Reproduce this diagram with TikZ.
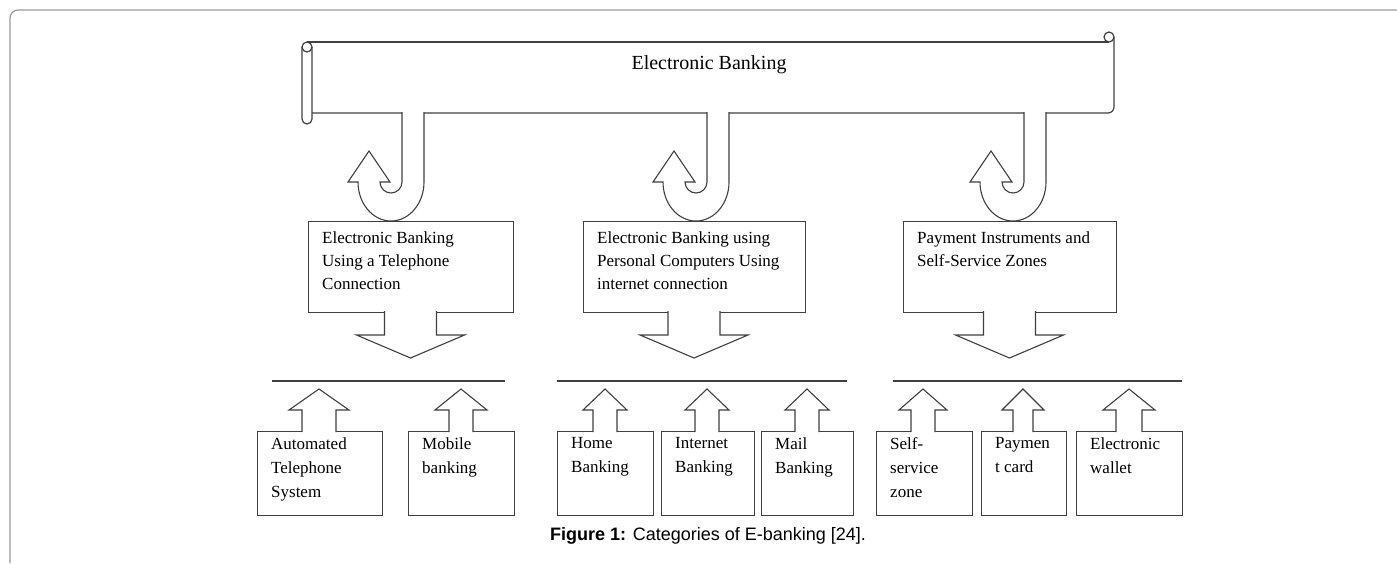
\documentclass[tikz,border=0pt]{standalone}
\usepackage{fontspec}
\setmainfont{Liberation Serif}
\newfontfamily\capfont{Liberation Sans}

\tikzset{
  outline/.style={draw=black!75, line width=1.2pt},
  bigbox/.style={outline, anchor=north west, inner sep=0pt, minimum height=91pt},
  subbox/.style={outline, anchor=north west, inner sep=0pt, minimum height=84pt},
  boxtext/.style={anchor=north west, align=left, inner sep=0pt, font=\fontsize{17}{23}\selectfont},
  subtext/.style={anchor=north west, align=left, inner sep=0pt, font=\fontsize{17}{24}\selectfont},
  blockarrow/.style={outline, line width=1.1pt, fill=white, line join=miter},
}

\begin{document}
\begin{tikzpicture}[x=1pt, y=-1pt]
    \useasboundingbox (0,0) rectangle (1397,563);
    % Page frame
    \draw[black!40, line width=1.2pt] (1397,10) -- (18,10) arc[start angle=-90, end angle=-180, radius=8] -- (10,563);

    % Scroll with title
    \draw[outline] (307,42) -- (1109,42);
    \draw[outline] (1109,37) circle[radius=5];
    \draw[outline] (1114,37) -- (1114,107) arc[start angle=0, end angle=90, radius=6] -- (312,113);
    \draw[outline] (302,47) -- (302,119) arc[start angle=180, end angle=0, radius=5] -- (312,47);
    \draw[outline] (307,47) circle[radius=5];
    \node[anchor=base, inner sep=0pt, font=\fontsize{20}{24}\selectfont] (title) at (709,69) {Electronic Banking};

    % Category boxes, J arrows from the scroll, down arrows
    \foreach \n/\jx/\bx/\bw/\txt in {1/391/308/205/{Electronic Banking\\Using a Telephone\\Connection},
                                     2/696/583/222/{Electronic Banking using\\Personal Computers Using\\internet connection},
                                     3/1013/903/213/{Payment Instruments and\\Self-Service Zones}} {
        \node[bigbox, minimum width=\bw pt] (cat\n) at (\bx,221) {};
        \node[boxtext] (cattxt\n) at ([xshift=14pt, yshift=-10pt]cat\n.north west) {\txt};
        \draw[blockarrow] (\jx+11,112) -- (\jx+11,182) arc[start angle=0, end angle=180, radius=11]
            -- (\jx-1,182) -- (\jx-22,151) -- (\jx-43,182) -- (\jx-33,182)
            arc[start angle=180, end angle=0, x radius=33, y radius=39] -- (\jx+33,112);
        \pgfmathsetmacro{\dx}{\bx+\bw/2}
        \draw[blockarrow] (\dx-26,311) -- (\dx-26,335) -- (\dx-54,335) -- (\dx,358)
            -- (\dx+54,335) -- (\dx+26,335) -- (\dx+26,311);
    }

    % Bars under the down arrows
    \foreach \a/\b [count=\k] in {272/505, 557/847, 893/1182} {
        \coordinate (barl\k) at (\a,381);
        \coordinate (barr\k) at (\b,381);
        \draw[outline] (barl\k) -- (barr\k);
    }

    % Sub-category boxes with up arrows
    \foreach \l/\r/\t/\hh/\sh/\txt [count=\i] in {257/382/319/30/17/{Automated\\Telephone\\System},
                                                 408/514/461/26/12/{Mobile\\banking},
                                                 557/653/605/22/12/{Home\\Banking},
                                                 661/754/707/22/12/{Internet\\Banking},
                                                 761/853/807/22/12/{Mail\\Banking},
                                                 876/972/923/24/12/{Self-\\service\\zone},
                                                 981/1066/1023/21/10/{Paymen\\t card},
                                                 1076/1182/1129/26/13/{Electronic\\wallet}} {
        \pgfmathsetmacro{\w}{\r-\l}
        \node[subbox, minimum width=\w pt] (sub\i) at (\l,431) {};
        \node[subtext] (subtxt\i) at ([xshift=14pt, yshift=-6pt]sub\i.north west) {\txt};
        \draw[blockarrow] (\t-\sh,432) -- (\t-\sh,410) -- (\t-\hh,410) -- (\t,389)
            -- (\t+\hh,410) -- (\t+\sh,410) -- (\t+\sh,432);
    }

    % Caption
    \node[font=\capfont\fontsize{18}{20}\selectfont] (caption) at (708,536) {\textbf{Figure 1:} Categories of E-banking [24].};
\end{tikzpicture}
\end{document}
